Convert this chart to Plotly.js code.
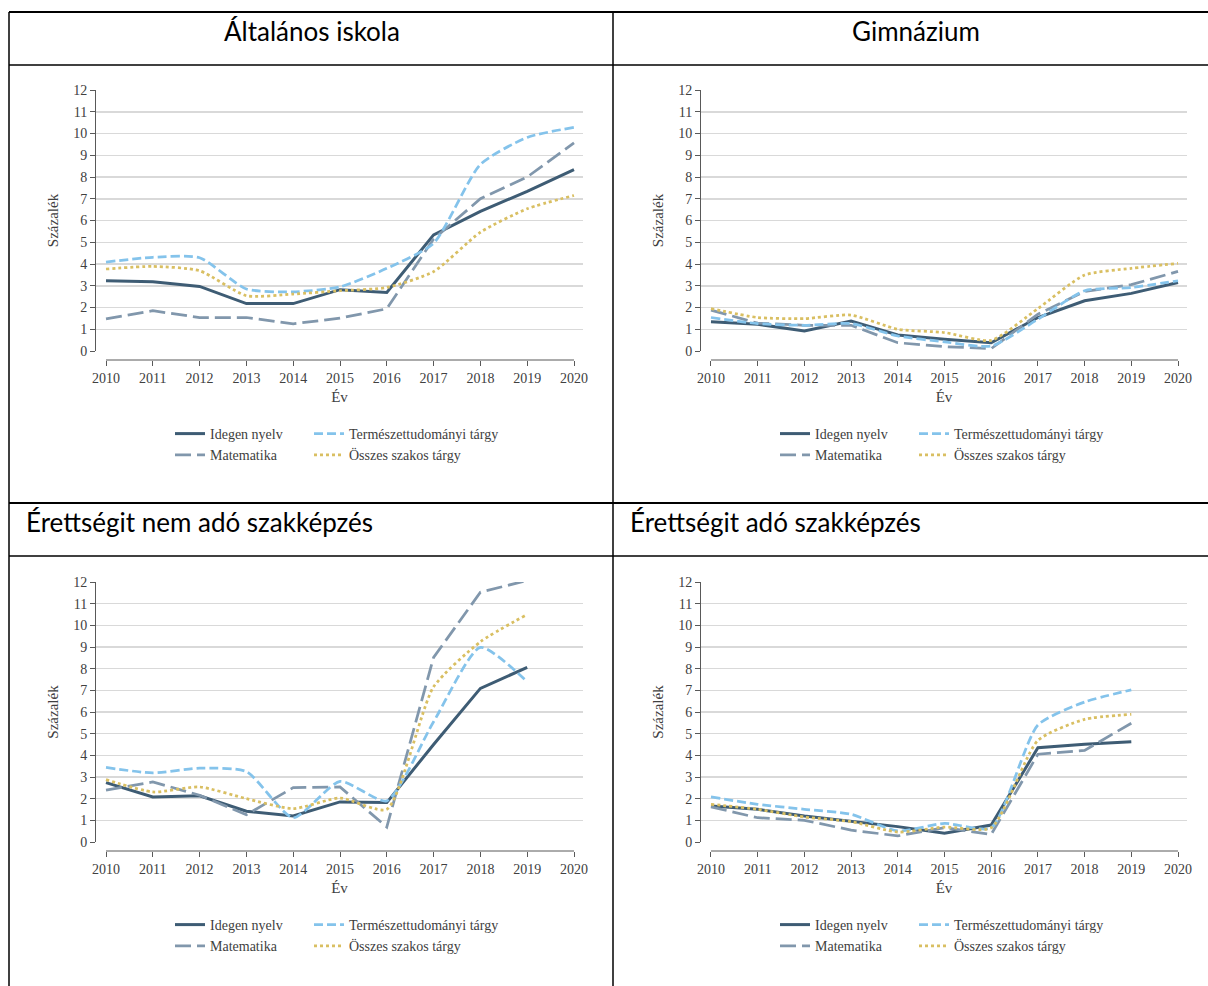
<!DOCTYPE html>
<html>
<head>
<meta charset="utf-8">
<script src="https://cdn.plot.ly/plotly-3.0.1.min.js"></script>
<style>html,body{margin:0;padding:0;background:#fff;}#chart{width:1208px;height:986px;}</style>
</head>
<body>
<div id="chart"></div>
<script>
// ---------- DATA ----------
const years = [2010, 2011, 2012, 2013, 2014, 2015, 2016, 2017, 2018, 2019, 2020];
const seriesNames = ["Idegen nyelv", "Matematika", "Természettudományi tárgy", "Összes szakos tárgy"];
const panelTitles = ["Általános iskola", "Gimnázium", "Érettségit nem adó szakképzés", "Érettségit adó szakképzés"];

// Általános iskola
const alt_idegen  = [3.23, 3.18, 2.97, 2.18, 2.18, 2.82, 2.69, 5.34, 6.42, 7.34, 8.34];
const alt_matek   = [1.48, 1.85, 1.54, 1.54, 1.25, 1.51, 1.94, 5.15, 7.00, 8.00, 9.57];
const alt_term    = [4.09, 4.31, 4.29, 2.85, 2.72, 2.95, 3.80, 4.95, 8.58, 9.82, 10.28];
const alt_osszes  = [3.77, 3.89, 3.69, 2.54, 2.62, 2.77, 2.92, 3.65, 5.46, 6.54, 7.15];

// Gimnázium
const gim_idegen  = [1.35, 1.23, 0.92, 1.38, 0.74, 0.54, 0.38, 1.54, 2.31, 2.65, 3.15];
const gim_matek   = [1.88, 1.28, 1.18, 1.18, 0.38, 0.20, 0.11, 1.69, 2.74, 3.05, 3.66];
const gim_term    = [1.54, 1.26, 1.18, 1.26, 0.69, 0.42, 0.23, 1.46, 2.77, 2.92, 3.23];
const gim_osszes  = [1.95, 1.54, 1.49, 1.65, 1.00, 0.85, 0.49, 1.95, 3.49, 3.80, 4.03];

// Érettségit nem adó szakképzés (2010–2019)
const nem_idegen  = [2.74, 2.08, 2.13, 1.42, 1.20, 1.85, 1.82, 4.50, 7.09, 8.06];
const nem_matek   = [2.39, 2.77, 2.16, 1.26, 2.51, 2.54, 0.69, 8.52, 11.53, 12.07];
const nem_term    = [3.44, 3.19, 3.41, 3.25, 1.12, 2.80, 1.90, 5.55, 8.98, 7.40];
const nem_osszes  = [2.88, 2.31, 2.54, 2.00, 1.54, 2.03, 1.51, 7.16, 9.24, 10.50];

// Érettségit adó szakképzés (2010–2019)
const ado_idegen  = [1.66, 1.51, 1.20, 0.94, 0.71, 0.40, 0.78, 4.35, 4.51, 4.63];
const ado_matek   = [1.62, 1.12, 1.00, 0.55, 0.28, 0.66, 0.35, 4.05, 4.23, 5.48];
const ado_term    = [2.08, 1.74, 1.51, 1.28, 0.51, 0.86, 0.66, 5.40, 6.46, 7.02];
const ado_osszes  = [1.74, 1.51, 1.15, 0.94, 0.46, 0.69, 0.66, 4.69, 5.66, 5.89];

const yTicks = [0, 1, 2, 3, 4, 5, 6, 7, 8, 9, 10, 11, 12];
const yTitle = "Százalék";
const xTitle = "Év";

// ---------- STYLE ----------
const W = 1208, H = 986;
const px = v => v / W;
const py = v => 1 - v / H;
const serif = "Liberation Serif, Times New Roman, serif";
const sans = "Lato, Open Sans, sans-serif";
const textCol = "#404040";
const styles = [
  {color: "#3e5c74", width: 3, dash: "solid", shape: "linear"},
  {color: "#8197ac", width: 2.75, dash: "16px,6px", shape: "linear"},
  {color: "#84c3eb", width: 2.75, dash: "9px,4px", shape: "spline"},
  {color: "#d9bf62", width: 2.75, dash: "3px,3px", shape: "spline"}
];

const panelData = [
  [alt_idegen, alt_matek, alt_term, alt_osszes],
  [gim_idegen, gim_matek, gim_term, gim_osszes],
  [nem_idegen, nem_matek, nem_term, nem_osszes],
  [ado_idegen, ado_matek, ado_term, ado_osszes]
];

// pixel geometry of each panel: left, right, top(12), bottom(0), legend x
const geo = [
  {l: 96, r: 583, t: 90, b: 351, lx: 170},
  {l: 701, r: 1187, t: 90, b: 351, lx: 775},
  {l: 96, r: 583, t: 582, b: 842, lx: 170},
  {l: 701, r: 1187, t: 582, b: 842, lx: 775}
];

const traces = [];
const layout = {
  width: W, height: H,
  margin: {l: 0, r: 0, t: 0, b: 0},
  paper_bgcolor: "#ffffff",
  plot_bgcolor: "rgba(0,0,0,0)",
  showlegend: true,
  shapes: [],
  annotations: []
};

const legendOrderCols = [[0, 1], [2, 3]]; // column 1: Idegen, Matematika ; column 2: Term., Összes

geo.forEach((g, p) => {
  const n = p + 1;
  const xa = "xaxis" + (n === 1 ? "" : n);
  const ya = "yaxis" + (n === 1 ? "" : n);
  const xr = "x" + (n === 1 ? "" : n);
  const yr = "y" + (n === 1 ? "" : n);
  const xAxisPos = py(g.b + 9);

  layout[xa] = {
    domain: [px(g.l), px(g.r)],
    anchor: "free",
    position: xAxisPos,
    range: [2010 - 10 / 46.8, 2020 + 9 / 46.8],
    tickvals: years,
    ticktext: years.map(String),
    ticks: "outside", ticklen: 5, tickwidth: 1, tickcolor: "#595959",
    showline: false, showgrid: false, zeroline: false,
    tickfont: {family: serif, size: 14, color: textCol},
    title: {text: xTitle, font: {family: serif, size: 15, color: textCol}, standoff: 6},
    fixedrange: true
  };
  layout[ya] = {
    domain: [py(g.b), py(g.t)],
    anchor: xr,
    range: [0, 12],
    tickvals: yTicks,
    ticks: "outside", ticklen: 5, tickwidth: 1, tickcolor: "#595959",
    showline: true, linecolor: "#595959", linewidth: 1,
    showgrid: true, gridcolor: "#d9d9d9", gridwidth: 1.5,
    zeroline: false,
    tickfont: {family: serif, size: 14, color: textCol},
    title: {text: yTitle, font: {family: serif, size: 15, color: textCol}, standoff: 10},
    fixedrange: true
  };
  // x axis line spanning 2010..2020
  layout.shapes.push({
    type: "line", xref: xr, yref: "paper",
    x0: years[0], x1: years[years.length - 1], y0: xAxisPos, y1: xAxisPos,
    line: {color: "#595959", width: 1}
  });

  // two one-column legends per panel
  legendOrderCols.forEach((col, c) => {
    const legIdx = p * 2 + c + 1;
    const legKey = "legend" + (legIdx === 1 ? "" : legIdx);
    layout[legKey] = {
      x: px(g.lx + c * 139), y: py(g.b + 67),
      xanchor: "left", yanchor: "top",
      orientation: "v",
      bgcolor: "rgba(0,0,0,0)",
      borderwidth: 0,
      font: {family: serif, size: 14, color: textCol},
      itemwidth: 30,
      tracegroupgap: 0
    };
    col.forEach(s => {
      const vals = panelData[p][s];
      const st = styles[s];
      traces.push({
        type: "scatter", mode: "lines",
        name: seriesNames[s],
        x: years.slice(0, vals.length),
        y: vals,
        xaxis: xr, yaxis: yr,
        legend: legKey,
        cliponaxis: false,
        line: {color: st.color, width: st.width, dash: st.dash, shape: st.shape, smoothing: 0.6},
        hoverinfo: "x+y+name"
      });
    });
  });
});

// ---------- TABLE FRAME ----------
const frame = [
  {x0: 9, x1: W, y0: 12, y1: 12, w: 2.2},
  {x0: 9, x1: W, y0: 65, y1: 65, w: 1.5},
  {x0: 9, x1: W, y0: 503, y1: 503, w: 2.2},
  {x0: 9, x1: W, y0: 556, y1: 556, w: 1.5},
  {x0: 9, x1: 9, y0: 12, y1: H, w: 1.5},
  {x0: 613, x1: 613, y0: 12, y1: H, w: 1.5}
];
frame.forEach(f => layout.shapes.push({
  type: "line", xref: "paper", yref: "paper",
  x0: px(f.x0), x1: px(f.x1), y0: py(f.y0), y1: py(f.y1),
  line: {color: "#000000", width: f.w}
}));

// ---------- PANEL TITLES ----------
const titlePos = [
  {x: 312, y: 31, anchor: "center"},
  {x: 916, y: 31, anchor: "center"},
  {x: 24, y: 522, anchor: "left"},
  {x: 628, y: 522, anchor: "left"}
];
titlePos.forEach((t, i) => layout.annotations.push({
  xref: "paper", yref: "paper", x: px(t.x), y: py(t.y),
  xanchor: t.anchor, yanchor: "middle", showarrow: false,
  text: panelTitles[i],
  font: {family: sans, size: 26, color: "#000000"}
}));

Plotly.newPlot("chart", traces, layout, {displayModeBar: false, staticPlot: true});
</script>
</body>
</html>
